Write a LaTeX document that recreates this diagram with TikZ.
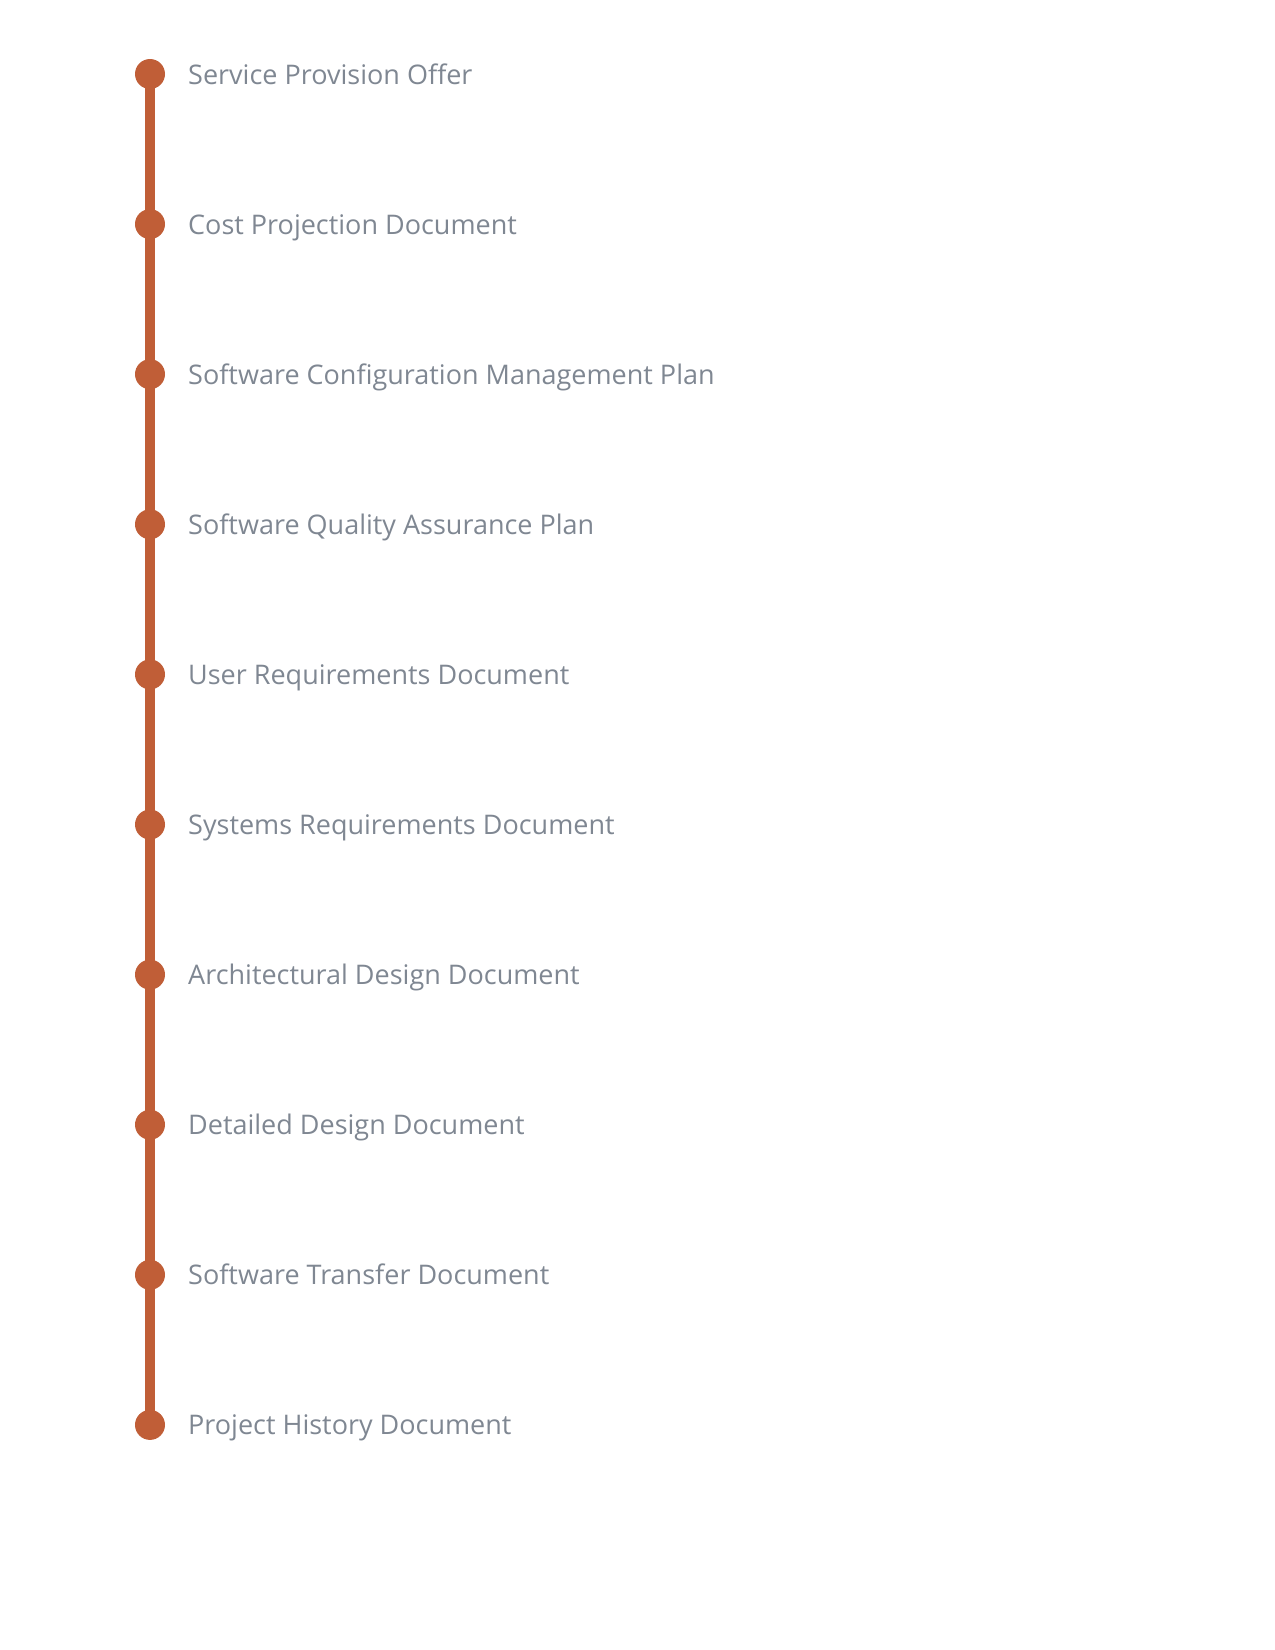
\documentclass[tikz,border=0pt]{standalone}
\usepackage{fontspec}
\setmainfont{Open Sans}
\definecolor{dotc}{HTML}{C05E37}
\definecolor{txtc}{HTML}{7F8792}
\begin{document}
\begin{tikzpicture}[x=1pt,y=-1pt,
  dotnode/.style={circle,fill=dotc,minimum size=30pt,inner sep=0pt},
  lbl/.style={anchor=base west,text=txtc,font=\fontsize{27}{31}\selectfont,inner sep=0pt},
  spine/.style={draw=dotc,line width=10pt}]
\useasboundingbox (0,0) rectangle (1275,1650);
\foreach \i in {0,...,9}{
  \coordinate (c\i) at (150,{74+150.1*\i});
}
\draw[spine] (c0) -- (c9);
\foreach \i/\t in {0/Service Provision Offer,1/Cost Projection Document,2/Software Configuration Management Plan,3/Software Quality Assurance Plan,4/User Requirements Document,5/Systems Requirements Document,6/Architectural Design Document,7/Detailed Design Document,8/Software Transfer Document,9/Project History Document}{
  \node[dotnode] (d\i) at (c\i) {};
  \node[lbl] (t\i) at (188,{74+150.1*\i+10}) {\t};
}
\end{tikzpicture}
\end{document}
